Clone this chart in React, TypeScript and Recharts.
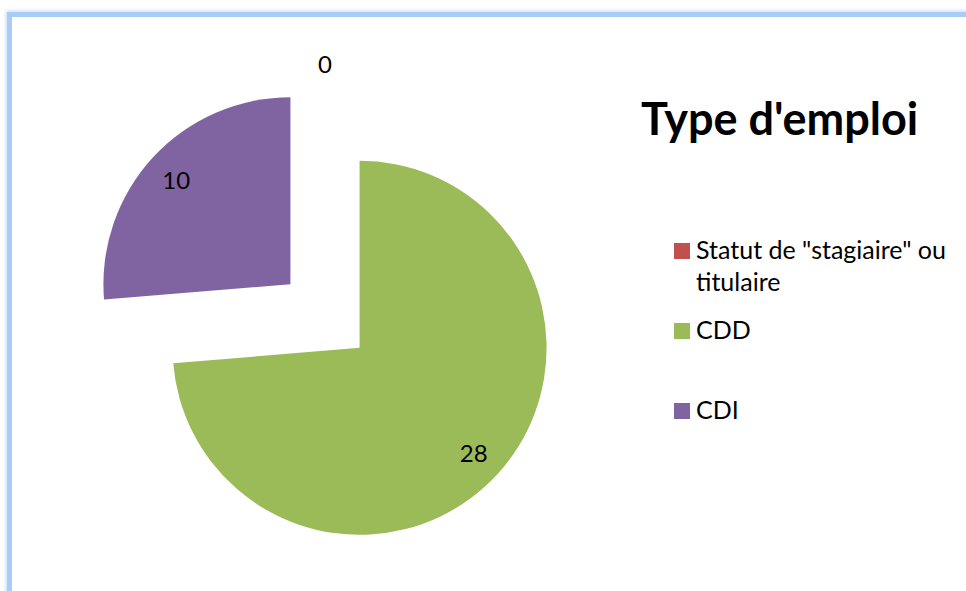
import { PieChart, Pie, Cell } from "recharts";

const categories = ['Statut de "stagiaire" ou titulaire', "CDD", "CDI"];
const legendLines = [['Statut de "stagiaire" ou', "titulaire"], ["CDD"], ["CDI"]];
const values = [0, 28, 10];
const colors = ["#C0504D", "#9BBB59", "#8064A2"];
const title = "Type d'emploi";

const data = categories.map((name, i) => ({ name, value: values[i] }));

const FONT = "Lato, 'Open Sans', sans-serif";
const RADIUS = 187;
const CENTER_X = 325;
const CENTER_Y = 316;
const EXPLODE = 47;
const RAD = Math.PI / 180;

const total = values.reduce((a, b) => a + b, 0);

// mid angle of each slice (clockwise from 12 o'clock), used to push the slice outwards
const midAngles = values.map((v, i) => {
  const before = values.slice(0, i).reduce((a, b) => a + b, 0);
  return 90 - (360 * (before + v / 2)) / total;
});

const makeLabel = (active: number) => (props: any) => {
  const { cx, cy, midAngle, outerRadius, index, value } = props;
  if (index !== active) return null;
  const r = value === 0 ? outerRadius * 1.1 : outerRadius * 0.83;
  const x = cx + r * Math.cos(-midAngle * RAD);
  const y = cy + r * Math.sin(-midAngle * RAD);
  return (
    <text
      x={x}
      y={y}
      textAnchor="middle"
      dominantBaseline="central"
      fill="#000"
      fontSize={24}
      fontFamily={FONT}
    >
      {value}
    </text>
  );
};

export default function App() {
  return (
    <div
      style={{
        position: "absolute",
        left: 0,
        top: 0,
        width: 966,
        height: 591,
        overflow: "hidden",
        background: "#fff",
        fontFamily: FONT,
      }}
    >
      <div
        style={{
          position: "absolute",
          left: 7,
          top: 12,
          width: 1000,
          height: 640,
          border: "5px solid #A9CCF4",
          boxShadow: "0 0 4px 1px rgba(169,204,244,0.7)",
          boxSizing: "border-box",
        }}
      />
      <div style={{ position: "absolute", left: 0, top: 0 }}>
        <PieChart width={966} height={591} margin={{ top: 0, right: 0, bottom: 0, left: 0 }}>
          {values.map((_, k) => (
            <Pie
              key={k}
              data={data}
              dataKey="value"
              nameKey="name"
              cx={CENTER_X + EXPLODE * Math.cos(midAngles[k] * RAD)}
              cy={CENTER_Y - EXPLODE * Math.sin(midAngles[k] * RAD)}
              outerRadius={RADIUS}
              startAngle={90}
              endAngle={-270}
              stroke="none"
              label={makeLabel(k)}
              labelLine={false}
              isAnimationActive={false}
            >
              {data.map((d, i) => (
                <Cell key={d.name} fill={i === k ? colors[i] : "transparent"} />
              ))}
            </Pie>
          ))}
        </PieChart>
      </div>
      <div
        style={{
          position: "absolute",
          left: 641,
          top: 91,
          fontSize: 45,
          fontWeight: 700,
          color: "#000",
          lineHeight: "54px",
          whiteSpace: "nowrap",
        }}
      >
        {title}
      </div>
      {legendLines.map((lines, i) => {
        const tops = [233, 313, 393];
        return (
          <div
            key={i}
            style={{ position: "absolute", left: 674, top: tops[i], display: "flex" }}
          >
            <div
              style={{
                width: 16,
                height: 16,
                background: colors[i],
                marginTop: 10,
                marginRight: 6,
              }}
            />
            <div style={{ fontSize: 25, lineHeight: "32px", color: "#000", whiteSpace: "nowrap" }}>
              {lines.map((l) => (
                <div key={l}>{l}</div>
              ))}
            </div>
          </div>
        );
      })}
    </div>
  );
}
